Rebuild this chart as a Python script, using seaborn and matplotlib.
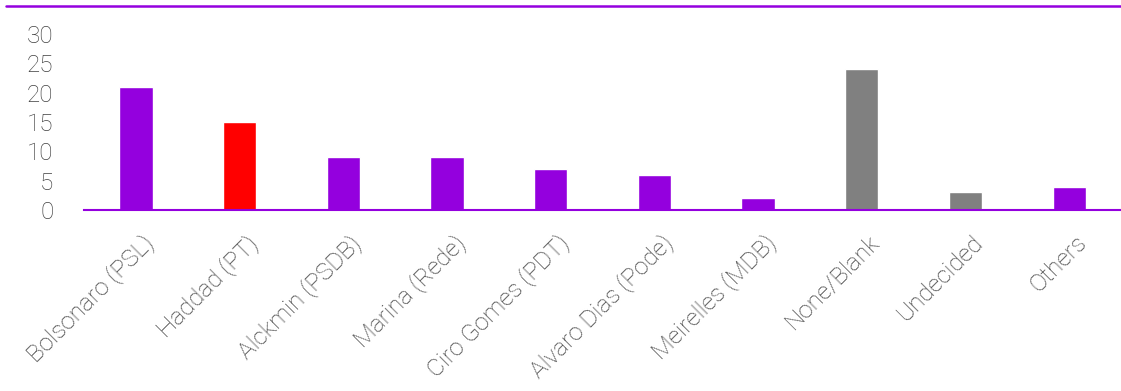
import pandas as pd
import matplotlib.pyplot as plt
import seaborn as sns
from matplotlib.lines import Line2D
from matplotlib.transforms import ScaledTranslation

# Данные опроса
candidates = ['Bolsonaro (PSL)', 'Haddad (PT)', 'Alckmin (PSDB)', 'Marina (Rede)',
              'Ciro Gomes (PDT)', 'Alvaro Dias (Pode)', 'Meirelles (MDB)',
              'None/Blank', 'Undecided', 'Others']
votes = [21, 15, 9, 9, 7, 6, 2, 24, 3, 4]
bar_colors = ['#9400DE', '#FF0000', '#9400DE', '#9400DE', '#9400DE', '#9400DE',
              '#9400DE', '#808080', '#808080', '#9400DE']
y_ticks = [0, 5, 10, 15, 20, 25, 30]

sns.set_style('white')
plt.rcParams['font.family'] = ['Roboto', 'DejaVu Sans']

df = pd.DataFrame({'candidate': candidates, 'votes': votes})

fig = plt.figure(figsize=(11.21, 3.91), dpi=100)
ax = fig.add_axes([0.075, 0.463, 0.925, 0.45])

sns.barplot(x='candidate', y='votes', data=df, hue='candidate',
            palette=bar_colors, width=0.32, legend=False, ax=ax, saturation=1)

ax.set_ylim(0, 30)
ax.set_yticks(y_ticks)
ax.set_xlim(-0.5, len(candidates) - 0.5)
ax.set_xlabel('')
ax.set_ylabel('')

for s in ['left', 'right', 'top']:
    ax.spines[s].set_visible(False)
ax.spines['bottom'].set_color('#9400DE')
ax.spines['bottom'].set_linewidth(1.5)

ax.tick_params(axis='y', length=0, labelsize=17.5, labelcolor='#404040', pad=22)
ax.tick_params(axis='x', length=0, labelsize=17.5, labelcolor='#404040', pad=15)
for lbl in ax.get_yticklabels() + ax.get_xticklabels():
    lbl.set_fontweight('light')
plt.setp(ax.get_xticklabels(), rotation=45, ha='right', va='top', rotation_mode='anchor')
# небольшой сдвиг подписей вправо
shift = ScaledTranslation(6 / 100, 0, fig.dpi_scale_trans)
for lbl in ax.get_xticklabels():
    lbl.set_transform(lbl.get_transform() + shift)

# Фиолетовая линия сверху
fig.add_artist(Line2D([0.005, 1.0], [0.984, 0.984], transform=fig.transFigure,
                      color='#9400DE', linewidth=1.8))

fig.savefig('out.png', dpi=100)
